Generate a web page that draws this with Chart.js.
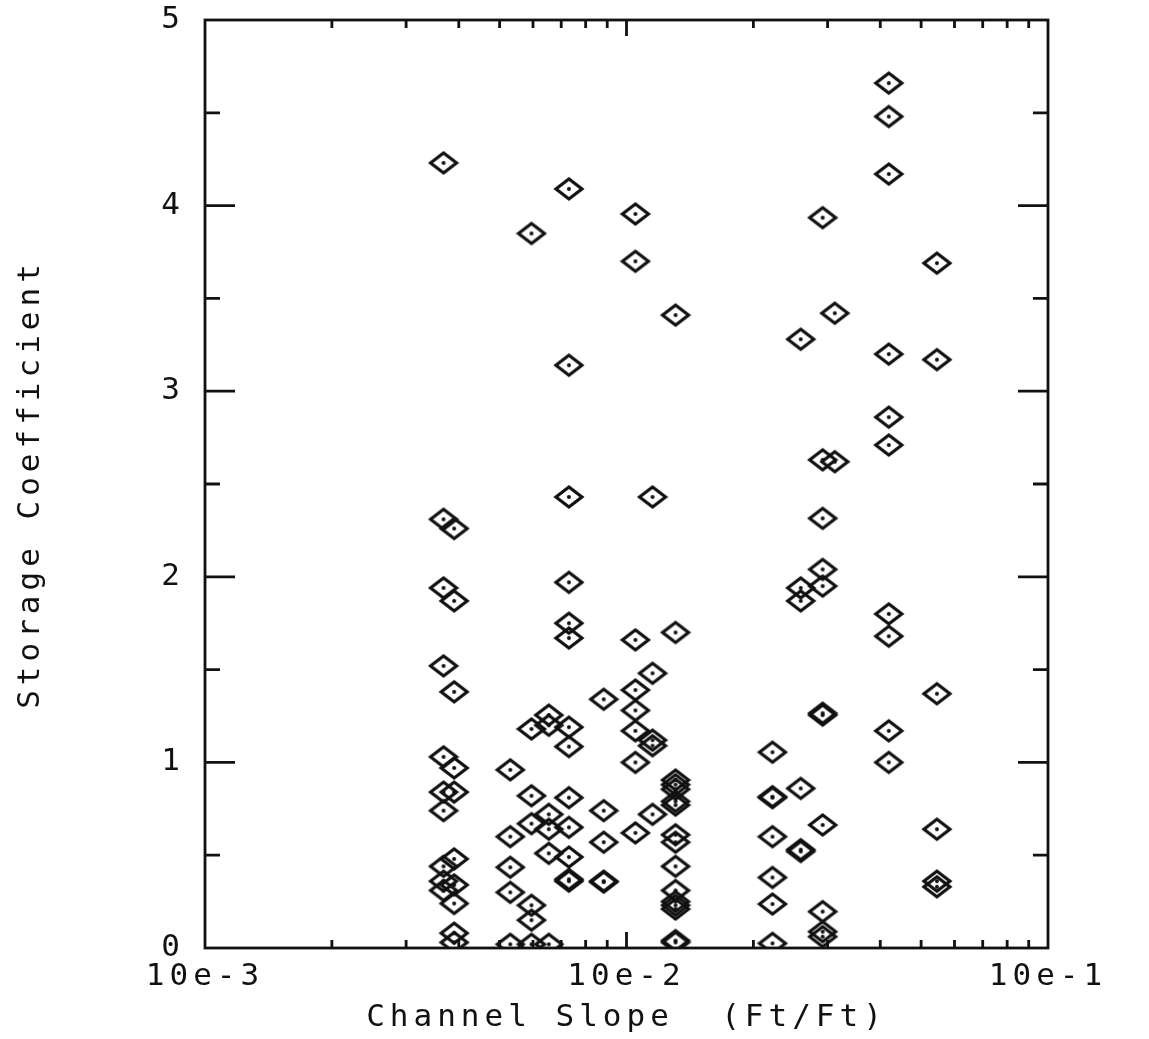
<!DOCTYPE html>
<html>
<head>
<meta charset="utf-8">
<script src="https://cdn.jsdelivr.net/npm/chart.js@4"></script>
<style>
  body { margin: 0; background: #fff; }
  #wrap { width: 1149px; height: 1039px; }
</style>
</head>
<body>
<div id="wrap"><canvas id="slopeChart"></canvas></div>
<script>
// slope of each column of points (Ft/Ft)
const columnSlopes = [0.00368, 0.00390, 0.0053, 0.00595, 0.00654, 0.0073, 0.00883, 0.0105,
    0.01153, 0.01307, 0.0222, 0.0259, 0.0292, 0.0312, 0.0419, 0.0545];
// storage coefficients read for each column
const columnCoefficients = [
    [4.23, 2.31, 1.94, 1.52, 1.03, 0.84, 0.74, 0.44, 0.36, 0.31],
    [2.26, 1.87, 1.38, 0.97, 0.84, 0.48, 0.34, 0.24, 0.08, 0.03],
    [0.96, 0.60, 0.435, 0.30, 0.02],
    [3.85, 1.18, 0.82, 0.67, 0.23, 0.15, 0.02],
    [1.255, 1.20, 0.72, 0.64, 0.51, 0.02],
    [4.09, 3.14, 2.43, 1.97, 1.75, 1.67, 1.19, 1.085, 0.81, 0.65, 0.49, 0.37, 0.36],
    [1.34, 0.74, 0.57, 0.36, 0.355],
    [3.955, 3.70, 1.66, 1.39, 1.28, 1.17, 1.00, 0.62],
    [2.43, 1.48, 1.12, 1.09, 0.72],
    [3.41, 1.70, 0.905, 0.88, 0.855, 0.79, 0.77, 0.61, 0.57, 0.44, 0.31, 0.25, 0.23, 0.21, 0.04, 0.03],
    [1.055, 0.815, 0.81, 0.60, 0.38, 0.237, 0.025],
    [3.28, 1.94, 1.87, 0.86, 0.53, 0.52],
    [3.935, 2.63, 2.315, 2.04, 1.95, 1.265, 1.255, 0.663, 0.196, 0.088, 0.061],
    [3.42, 2.62],
    [4.66, 4.48, 4.17, 3.20, 2.86, 2.71, 1.80, 1.68, 1.17, 1.00],
    [3.69, 3.17, 1.37, 0.64, 0.36, 0.33]
];
const xTickValues = [0.001, 0.01, 0.1];
const xTickLabels = ['10e-3', '10e-2', '10e-1'];
const yMajorTicks = [1, 2, 3, 4];
const yMinorTicks = [0.5, 1.5, 2.5, 3.5, 4.5];

const ink = '#111';
const font = { family: 'DejaVu Sans Mono', size: 31 };

// diamond with a dot in the middle, like the plotter symbol
function diamondMarker() {
    const c = document.createElement('canvas');
    c.width = 32; c.height = 26;
    const g = c.getContext('2d');
    g.strokeStyle = ink;
    g.lineWidth = 3.2;
    g.lineJoin = 'miter';
    g.beginPath();
    g.moveTo(16, 3); g.lineTo(29, 13); g.lineTo(16, 23); g.lineTo(3, 13);
    g.closePath();
    g.stroke();
    g.fillStyle = ink;
    g.beginPath();
    g.arc(16, 13, 2, 0, Math.PI * 2);
    g.fill();
    return c;
}

const points = [];
columnSlopes.forEach((s, i) => {
    columnCoefficients[i].forEach(v => points.push({ x: s, y: v }));
});

// plotter look: wide lettering, box frame, inward ticks
const plotterFrame = {
    id: 'plotterFrame',
    beforeUpdate(chart) { chart.ctx.letterSpacing = '5px'; },
    beforeDraw(chart) { chart.ctx.letterSpacing = '5px'; },
    afterDraw(chart) {
        const { ctx, chartArea: a, scales: { x, y } } = chart;
        ctx.save();
        ctx.strokeStyle = ink;
        ctx.lineWidth = 2.8;
        ctx.strokeRect(a.left, a.top, a.right - a.left, a.bottom - a.top);
        ctx.beginPath();
        const yTick = (v, len) => {
            const p = y.getPixelForValue(v);
            ctx.moveTo(a.left, p); ctx.lineTo(a.left + len, p);
            ctx.moveTo(a.right, p); ctx.lineTo(a.right - len, p);
        };
        yMajorTicks.forEach(v => yTick(v, 30));
        yMinorTicks.forEach(v => yTick(v, 15));
        const xTick = (v, len) => {
            const p = x.getPixelForValue(v);
            ctx.moveTo(p, a.bottom); ctx.lineTo(p, a.bottom - len);
            ctx.moveTo(p, a.top); ctx.lineTo(p, a.top + len);
        };
        xTickValues.slice(1, -1).forEach(v => xTick(v, 16));
        [0.001, 0.01].forEach(d => {
            for (let k = 2; k <= 9; k++) xTick(k * d, 8);
        });
        ctx.stroke();
        ctx.restore();
    }
};

const ctx = document.getElementById('slopeChart').getContext('2d');
new Chart(ctx, {
    type: 'scatter',
    data: {
        datasets: [{
            label: 'Storage Coefficient',
            data: points,
            pointStyle: diamondMarker(),
            pointRadius: 13,
            pointHoverRadius: 13
        }]
    },
    options: {
        responsive: true,
        maintainAspectRatio: false,
        animation: false,
        layout: { padding: { top: 20, right: 101, left: 0, bottom: 0 } },
        plugins: {
            legend: { display: false },
            tooltip: { enabled: false }
        },
        scales: {
            x: {
                type: 'logarithmic',
                min: 0.001,
                max: 0.1,
                afterBuildTicks(scale) {
                    scale.ticks = xTickValues.map(v => ({ value: v }));
                },
                afterFit(scale) {
                    scale.height = 91;
                    scale.paddingLeft = 0;
                    scale.paddingRight = 0;
                },
                grid: { display: false, drawTicks: false },
                border: { display: false },
                ticks: {
                    color: ink,
                    font: font,
                    padding: 10,
                    maxRotation: 0,
                    autoSkip: false,
                    callback: (v) => {
                        const i = xTickValues.indexOf(v);
                        return i >= 0 ? xTickLabels[i] : '';
                    }
                },
                title: {
                    display: true,
                    text: 'Channel Slope  (Ft/Ft)',
                    color: ink,
                    font: font,
                    padding: { top: 0, bottom: 2 }
                }
            },
            y: {
                min: 0,
                max: 5,
                afterFit(scale) {
                    scale.width = 205;
                    scale.paddingTop = 0;
                    scale.paddingBottom = 0;
                },
                grid: { display: false, drawTicks: false },
                border: { display: false },
                ticks: {
                    stepSize: 1,
                    color: ink,
                    font: font,
                    padding: 20
                },
                title: {
                    display: true,
                    text: 'Storage Coefficient',
                    color: ink,
                    font: font,
                    padding: { top: 12, bottom: 0 }
                }
            }
        }
    },
    plugins: [plotterFrame]
});
</script>
</body>
</html>
